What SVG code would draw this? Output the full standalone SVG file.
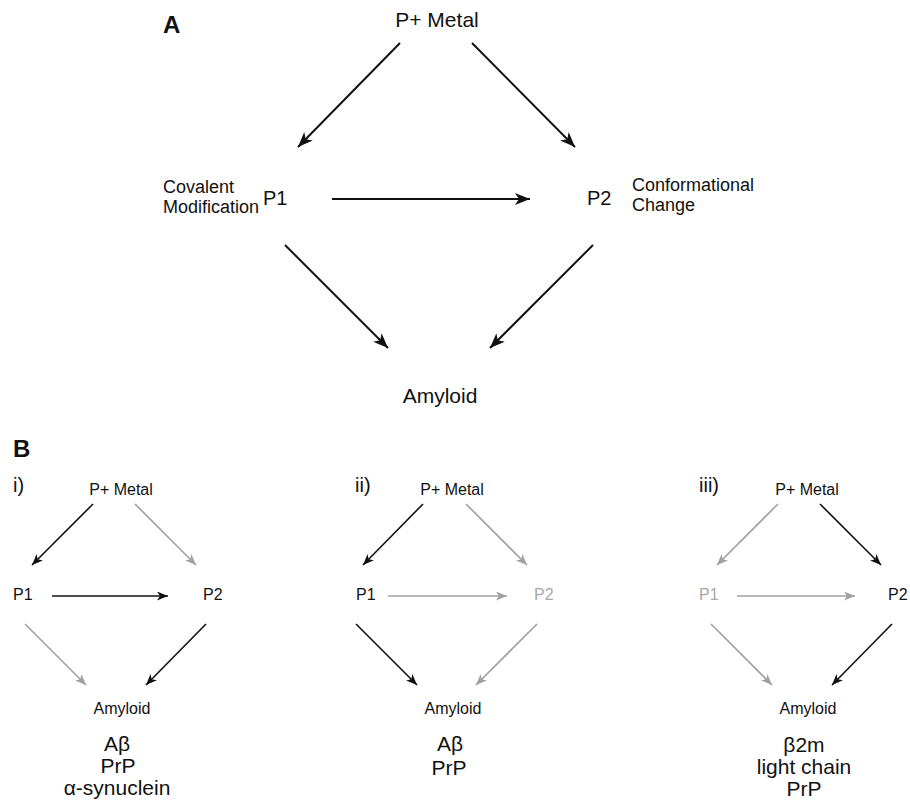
<svg xmlns="http://www.w3.org/2000/svg" width="910" height="806" viewBox="0 0 910 806">
<defs>
<style>
text{font-family:"Liberation Sans",Arial,sans-serif;fill:#111}
.hd{font-weight:bold;font-size:24px}
.a1{font-size:21px}
.a2{font-size:20px}
.a3{font-size:18px}
.b1{font-size:16px}
.b2{font-size:20px}
.b3{font-size:21px}
.g{fill:#a8a8a8}
.c{text-anchor:middle}
.la{stroke:#111;stroke-width:2;fill:none;marker-end:url(#hA)}
.lb{stroke:#111;stroke-width:1.6;fill:none;marker-end:url(#hB)}
.lg{stroke:#a0a0a0;stroke-width:1.6;fill:none;marker-end:url(#hG)}
</style>
<marker id="hA" markerUnits="userSpaceOnUse" markerWidth="16" markerHeight="12" refX="15" refY="6" orient="auto" viewBox="0 0 16 12"><path d="M0,0 L15,6 L0,12 L4,6 z" fill="#111"/></marker>
<marker id="hB" markerUnits="userSpaceOnUse" markerWidth="12" markerHeight="9" refX="11" refY="4.5" orient="auto" viewBox="0 0 12 9"><path d="M0,0 L11,4.5 L0,9 L3,4.5 z" fill="#111"/></marker>
<marker id="hG" markerUnits="userSpaceOnUse" markerWidth="12" markerHeight="9" refX="11" refY="4.5" orient="auto" viewBox="0 0 12 9"><path d="M0,0 L11,4.5 L0,9 L3,4.5 z" fill="#a0a0a0"/></marker>
</defs>
<rect width="910" height="806" fill="#fff"/>

<!-- Panel A -->
<text class="hd" x="163" y="33">A</text>
<g id="A-metal"><text class="a1 c" x="437" y="27">P+ Metal</text></g>
<g id="A-p1"><text class="a3" x="163" y="193">Covalent</text><text class="a3" x="163" y="213">Modification</text><text class="a2" x="263" y="205">P1</text></g>
<g id="A-p2"><text class="a2" x="587" y="205">P2</text><text class="a3" x="632" y="191">Conformational</text><text class="a3" x="632" y="211">Change</text></g>
<g id="A-amyloid"><text class="a1 c" x="440" y="403">Amyloid</text></g>
<g id="A-connectors">
<line class="la" x1="400" y1="43" x2="298" y2="147"/>
<line class="la" x1="472" y1="43" x2="575" y2="147"/>
<line class="la" x1="332" y1="199" x2="530" y2="199"/>
<line class="la" x1="285" y1="245" x2="388" y2="348"/>
<line class="la" x1="593" y1="245" x2="490" y2="348"/>
</g>

<!-- Panel B -->
<text class="hd" x="13" y="457">B</text>

<!-- i -->
<g id="Bi-label"><text class="b2" x="13" y="492">i)</text></g>
<g id="Bi-metal"><text class="b1 c" x="121" y="495">P+ Metal</text></g>
<g id="Bi-p1"><text class="b1" x="13" y="600">P1</text></g>
<g id="Bi-p2"><text class="b1" x="203" y="600">P2</text></g>
<g id="Bi-amyloid"><text class="b1 c" x="122" y="714">Amyloid</text></g>
<g id="Bi-species"><text class="b3 c" x="117" y="751">Aβ</text><text class="b3 c" x="118" y="773">PrP</text><text class="b3 c" x="117" y="795">α-synuclein</text></g>
<g id="Bi-connectors">
<line class="lb" x1="93" y1="504" x2="32" y2="565"/>
<line class="lg" x1="135" y1="504" x2="196" y2="565"/>
<line class="lb" x1="52" y1="596" x2="168" y2="596"/>
<line class="lg" x1="25" y1="624" x2="86" y2="685"/>
<line class="lb" x1="206" y1="624" x2="146" y2="685"/>
</g>

<!-- ii -->
<g id="Bii-label"><text class="b2" x="355" y="492">ii)</text></g>
<g id="Bii-metal"><text class="b1 c" x="452" y="495">P+ Metal</text></g>
<g id="Bii-p1"><text class="b1" x="356" y="600">P1</text></g>
<g id="Bii-p2"><text class="b1 g" x="534" y="600">P2</text></g>
<g id="Bii-amyloid"><text class="b1 c" x="453" y="714">Amyloid</text></g>
<g id="Bii-species"><text class="b3 c" x="450" y="751">Aβ</text><text class="b3 c" x="449" y="775">PrP</text></g>
<g id="Bii-connectors">
<line class="lb" x1="423" y1="504" x2="363" y2="565"/>
<line class="lg" x1="466" y1="504" x2="527" y2="565"/>
<line class="lg" x1="388" y1="596" x2="507" y2="596"/>
<line class="lb" x1="356" y1="624" x2="417" y2="685"/>
<line class="lg" x1="537" y1="624" x2="476" y2="685"/>
</g>

<!-- iii -->
<g id="Biii-label"><text class="b2" x="699" y="492">iii)</text></g>
<g id="Biii-metal"><text class="b1 c" x="807" y="495">P+ Metal</text></g>
<g id="Biii-p1"><text class="b1 g" x="699" y="600">P1</text></g>
<g id="Biii-p2"><text class="b1" x="888" y="600">P2</text></g>
<g id="Biii-amyloid"><text class="b1 c" x="808" y="714">Amyloid</text></g>
<g id="Biii-species"><text class="b3 c" x="804" y="752">β2m</text><text class="b3 c" x="804" y="774">light chain</text><text class="b3 c" x="804" y="796">PrP</text></g>
<g id="Biii-connectors">
<line class="lg" x1="778" y1="504" x2="717" y2="565"/>
<line class="lb" x1="820" y1="504" x2="881" y2="565"/>
<line class="lg" x1="737" y1="596" x2="855" y2="596"/>
<line class="lg" x1="711" y1="624" x2="772" y2="685"/>
<line class="lb" x1="892" y1="624" x2="832" y2="685"/>
</g>
</svg>
